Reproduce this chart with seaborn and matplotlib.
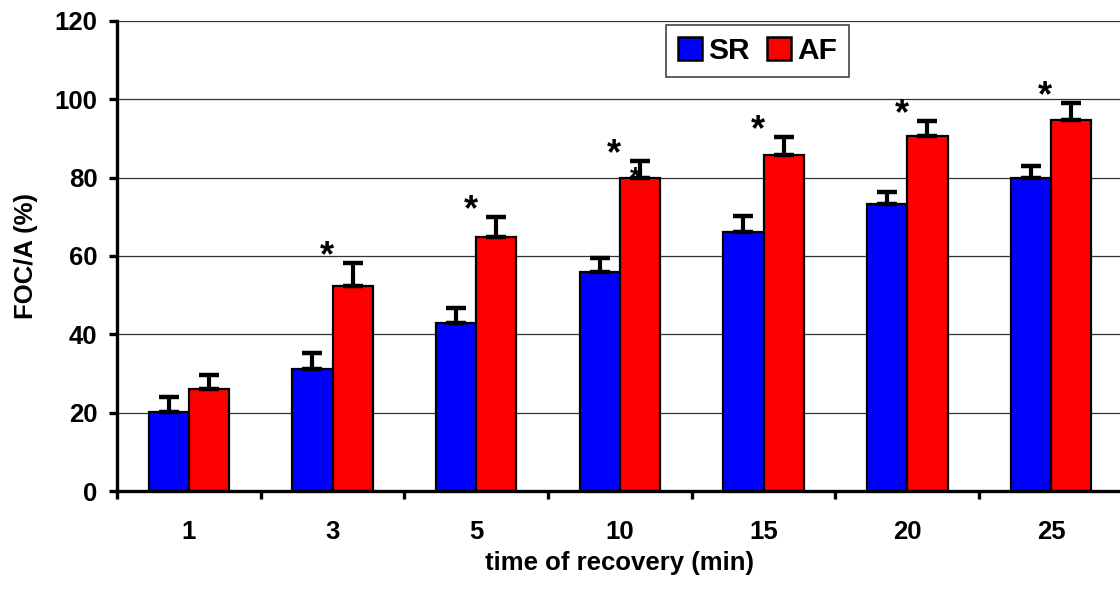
import numpy as np
import pandas as pd
import seaborn as sns
import matplotlib.pyplot as plt
from matplotlib.patches import Patch

# ---- data ----
times = ["1", "3", "5", "10", "15", "20", "25"]
sr = [20.2, 31.1, 42.8, 56.0, 66.0, 73.3, 79.8]
sr_err = [3.7, 4.1, 3.8, 3.4, 4.2, 3.0, 3.2]
af = [26.0, 52.3, 64.8, 79.8, 85.8, 90.6, 94.7]
af_err = [3.7, 6.0, 5.2, 4.5, 4.5, 3.9, 4.3]
sig = ["", "*", "*", "*", "*", "*", "*"]
groups = ["SR", "AF"]
colors = {"SR": "#0000FF", "AF": "#FF0000"}

df = pd.DataFrame({
    "time": times * 2,
    "value": sr + af,
    "group": ["SR"] * len(times) + ["AF"] * len(times),
})

sns.set_theme(style="white")
plt.rcParams["font.family"] = ["Liberation Sans", "DejaVu Sans"]
plt.rcParams["font.weight"] = "bold"
plt.rcParams["axes.labelweight"] = "bold"
for k in ["text.color", "axes.labelcolor", "xtick.color", "ytick.color"]:
    plt.rcParams[k] = "black"

FS = 18.5
fig = plt.figure(figsize=(11.2, 5.92), dpi=100)
ax = fig.add_axes([0.1045, 0.1706, 0.898, 0.794])

sns.barplot(data=df, x="time", y="value", hue="group", order=times,
            hue_order=groups, palette=colors, width=0.56, saturation=1,
            edgecolor="black", linewidth=1.6, errorbar=None, ax=ax,
            legend=False, zorder=2)

# upward-only error bars
for cont, errs in zip(ax.containers, [sr_err, af_err]):
    for bar, e in zip(cont, errs):
        x = bar.get_x() + bar.get_width() / 2
        h = bar.get_height()
        ax.errorbar(x, h, yerr=[[0], [e]], fmt="none", ecolor="black",
                    elinewidth=3.0, capsize=7.5, capthick=3.2, zorder=4)

# significance asterisks
for i, (s, v, e) in enumerate(zip(sig, af, af_err)):
    if s:
        ax.text(i - 0.04, v + e - 0.8, s, ha="center", va="baseline",
                fontsize=26, fontweight="bold", color="black", zorder=5)
# partly hidden asterisk on the AF bar at 10 min
af_cont = ax.containers[1]
b10 = af_cont[times.index("10")]
ax.text(b10.get_x() + b10.get_width() / 2 - 0.03, 78.0, "*", ha="center",
        va="baseline", fontsize=20, fontweight="bold", color="black",
        zorder=3)

ax.set_xlim(-0.5, len(times) - 0.5)
ax.set_ylim(0, 120)
ax.set_yticks(np.arange(0, 121, 20))
ax.yaxis.grid(True, color="#333333", linewidth=0.9)
ax.xaxis.grid(False)
ax.set_axisbelow(True)

for side in ["top", "right"]:
    ax.spines[side].set_visible(False)
for side in ["left", "bottom"]:
    ax.spines[side].set_color("black")
    ax.spines[side].set_linewidth(2.4)

ax.set_xticks(np.arange(-0.5, len(times), 1.0), minor=True)
ax.tick_params(axis="x", which="major", length=0, pad=21, labelsize=FS,
               labelcolor="black")
ax.tick_params(axis="x", which="minor", bottom=True, direction="out",
               length=6, width=2.4, color="black")
ax.tick_params(axis="y", which="major", left=True, direction="out",
               length=6, width=2.4, color="black", pad=8, labelsize=FS,
               labelcolor="black")
for lab in ax.get_xticklabels() + ax.get_yticklabels():
    lab.set_fontweight("bold")

ax.set_xlabel("time of recovery (min)", fontsize=FS, fontweight="bold",
              labelpad=5, color="black")
ax.set_ylabel("FOC/A (%)", fontsize=FS, fontweight="bold", labelpad=12,
              color="black")

handles = [Patch(facecolor=colors[g], edgecolor="black", linewidth=1.8,
                 label=g) for g in groups]
leg = ax.legend(handles=handles, loc="upper center",
                bbox_to_anchor=(0.637, 0.992), ncol=2, frameon=True,
                fancybox=False, edgecolor="#444444", framealpha=1,
                handlelength=0.8, handleheight=0.8, handletextpad=0.2,
                columnspacing=0.6, borderpad=0.4, borderaxespad=0,
                prop={"size": FS + 3, "weight": "bold"})
leg.get_frame().set_linewidth(1.2)
for t in leg.get_texts():
    t.set_color("black")

fig.savefig("out.png", dpi=100)
